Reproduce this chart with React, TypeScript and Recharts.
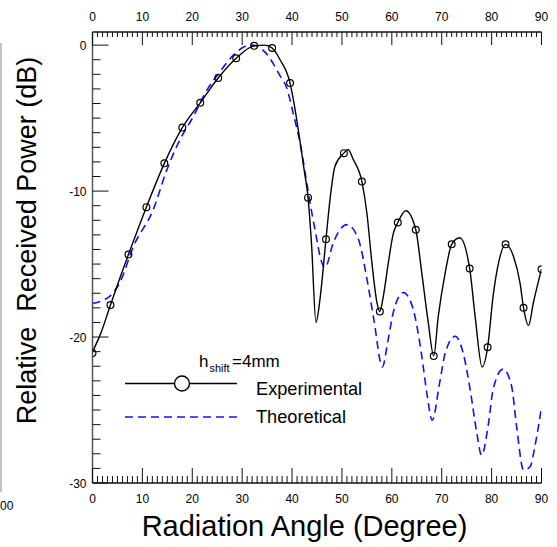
import React from 'react';
import { LineChart, Line, XAxis, YAxis } from 'recharts';

// Experimental markers (every 3.6 degrees)
const markerAngles = [0, 3.6, 7.2, 10.8, 14.4, 18, 21.6, 25.2, 28.8, 32.4, 36, 39.6, 43.2, 46.8, 50.4, 54, 57.6, 61.2, 64.8, 68.4, 72, 75.6, 79.2, 82.8, 86.4, 90];
const markerValues = [-21.1, -17.8, -14.35, -11.1, -8.1, -5.65, -3.95, -2.25, -0.9, -0.05, -0.2, -2.6, -10.45, -13.3, -7.4, -9.35, -18.25, -12.15, -12.65, -21.3, -13.65, -15.3, -20.7, -13.65, -18.0, -15.35];

// Experimental curve
const expAngles = [0, 1.6, 3.6, 7.2, 10.8, 14.4, 18, 21.6, 25.2, 28.8, 32.4, 34.5, 36, 37.6, 39.6, 40.3, 41.6, 42.4, 43.2, 43.9, 44.8, 45.6, 46.8, 47.6, 48.6, 50.4, 51.2, 52.3, 54, 55, 56, 57, 57.6, 58.3, 59.3, 60.3, 61.2, 62.8, 64.8, 66, 67.3, 68.4, 69.3, 70.7, 72, 73.6, 75.6, 76.7, 78.1, 79.2, 80.3, 81.4, 82.8, 84.4, 85.7, 86.4, 87.4, 88.4, 90];
const expValues = [-21.0, -19.8, -17.8, -14.35, -11.1, -8.1, -5.65, -3.95, -2.25, -0.9, -0.05, 0, -0.2, -1.0, -2.6, -3.8, -6.6, -8.5, -10.45, -13.6, -19.0, -17.4, -13.3, -10.6, -8.3, -7.4, -7.15, -7.85, -9.35, -11.5, -14.9, -17.6, -18.25, -17.2, -14.9, -12.9, -12.15, -11.35, -12.65, -15.6, -19.0, -21.3, -18.6, -15.6, -13.65, -13.2, -15.3, -18.6, -22.05, -20.7, -17.2, -14.9, -13.65, -14.5, -16.3, -18.0, -19.2, -17.6, -15.35];

// Theoretical curve
const theoAngles = [0, 2, 3.5, 5.5, 8.2, 12.2, 14.9, 17.5, 20.2, 22.9, 25.6, 28.2, 30.5, 32, 33.2, 34.9, 37.6, 38.9, 40.25, 41.6, 43.6, 44.9, 45.6, 46.6, 48.3, 51, 53.3, 55, 56.4, 58.1, 59.2, 60.3, 62.3, 64.2, 66, 67, 68.1, 69.6, 70.7, 72.7, 74.3, 75.7, 77, 78, 79.3, 80.3, 82.3, 84, 85, 86.4, 87.7, 88.7, 90];
const theoValues = [-17.7, -17.5, -17.2, -16.25, -13.8, -11.25, -8.55, -6.5, -4.9, -3.1, -1.8, -0.7, -0.1, 0, -0.1, -0.6, -2.1, -2.9, -4.7, -6.7, -10.8, -13.2, -14.45, -15.25, -13.5, -12.3, -13.3, -16.0, -18.8, -22.05, -20.3, -18.3, -16.95, -18.0, -21.3, -23.8, -25.7, -23.1, -21.1, -19.95, -21.1, -23.6, -26.5, -28.1, -26.1, -23.6, -22.2, -23.35, -26.1, -29.1, -28.9, -27.45, -24.8];

// Axis ticks
const xTicks = Array.from({ length: 91 }, (_, i) => i);
const yTicks = Array.from({ length: 31 }, (_, i) => -30 + i);
const xDomain = [0, 90];
const yDomain = [-30, 0.9];

const FONT = '"Liberation Sans", Arial, Helvetica, sans-serif';

const markerData = markerAngles.map((x, i) => ({ x, y: markerValues[i] }));
const expData = expAngles.map((x, i) => ({ x, y: expValues[i] }));
const theoData = theoAngles.map((x, i) => ({ x, y: theoValues[i] }));

const BottomTick = (props: any) => {
  const { x, y, payload } = props;
  const v = payload.value;
  const major = v % 10 === 0;
  return (
    <g>
      <line x1={x} x2={x} y1={y} y2={y - (major ? 15 : 7)} stroke="#111" strokeWidth={1} />
      {major && (
        <text x={x} y={y + 19.5} textAnchor="middle" fontSize={12} fontFamily={FONT} fill="#000">{v}</text>
      )}
    </g>
  );
};

const TopTick = (props: any) => {
  const { x, y, payload } = props;
  const v = payload.value;
  const major = v % 10 === 0;
  return (
    <g>
      <line x1={x} x2={x} y1={y} y2={y + (major ? 13 : 5)} stroke="#111" strokeWidth={1} />
      {major && (
        <text x={x} y={y - 11.3} textAnchor="middle" fontSize={12} fontFamily={FONT} fill="#000">{v}</text>
      )}
    </g>
  );
};

const LeftTick = (props: any) => {
  const { x, y, payload } = props;
  const v = payload.value;
  const major = v % 10 === 0;
  return (
    <g>
      <line x1={x} x2={x + (major ? 16 : 8)} y1={y} y2={y} stroke="#111" strokeWidth={1} />
      {major && (
        <text x={x - 6} y={y + 4.5} textAnchor="end" fontSize={12} fontFamily={FONT} fill="#000">{v}</text>
      )}
    </g>
  );
};

export default function App() {
  return (
    <div style={{ position: 'absolute', left: 0, top: 0, width: 557, height: 547, background: '#fff' }}>
      <LineChart width={557} height={547} margin={{ top: 0, right: 15.5, bottom: 0, left: 0 }}>
        <XAxis xAxisId="bottom" type="number" dataKey="x" domain={xDomain} ticks={xTicks} interval={0}
          tick={BottomTick} tickLine={false} tickSize={0} tickMargin={0} height={64}
          axisLine={{ stroke: '#111', strokeWidth: 1.5 }} allowDataOverflow />
        <XAxis xAxisId="top" orientation="top" type="number" dataKey="x" domain={xDomain} ticks={xTicks} interval={0}
          tick={TopTick} tickLine={false} tickSize={0} tickMargin={0} height={32}
          axisLine={{ stroke: '#111', strokeWidth: 1.5 }} allowDataOverflow />
        <YAxis yAxisId="left" type="number" domain={yDomain} ticks={yTicks} interval={0}
          tick={LeftTick} tickLine={false} tickSize={0} tickMargin={0} width={92.5}
          axisLine={{ stroke: '#555', strokeWidth: 1.5 }} allowDataOverflow />
        <YAxis yAxisId="right" orientation="right" type="number" domain={yDomain} tick={false}
          tickLine={false} width={0} axisLine={{ stroke: '#777', strokeWidth: 2 }} allowDataOverflow />
        <Line xAxisId="bottom" yAxisId="left" data={theoData} dataKey="y" type="monotone"
          stroke="#0a14ff" strokeWidth={1.6} strokeDasharray="8 5" dot={false} activeDot={false}
          isAnimationActive={false} />
        <Line xAxisId="bottom" yAxisId="left" data={expData} dataKey="y" type="monotone"
          stroke="#000" strokeWidth={1.4} dot={false} activeDot={false} isAnimationActive={false} />
        <Line xAxisId="bottom" yAxisId="left" data={markerData} dataKey="y" stroke="none"
          dot={{ r: 3.4, stroke: '#000', strokeWidth: 1.2, fill: 'none' }} activeDot={false}
          isAnimationActive={false} />
      </LineChart>
      <svg width={557} height={547} style={{ position: 'absolute', left: 0, top: 0, pointerEvents: 'none' }}>
        {/* cropped artifacts at the left edge */}
        <line x1={1} x2={1} y1={43} y2={492} stroke="#888" strokeWidth={1} />
        <text x={0} y={510} fontSize={12} fontFamily={FONT} fill="#000">00</text>
        {/* axis titles */}
        <text x={304.5} y={536} textAnchor="middle" fontSize={29} fontFamily={FONT} fill="#000">Radiation Angle (Degree)</text>
        <text x={36} y={240.5} textAnchor="middle" fontSize={27} fontFamily={FONT} fill="#000"
          transform="rotate(-90 36 240.5)" style={{ whiteSpace: 'pre' }}>{'Relative  Received Power (dB)'}</text>
        {/* legend */}
        <text fontFamily={FONT} fill="#000">
          <tspan x={199} y={367} fontSize={17}>h</tspan>
          <tspan x={209.5} y={371.5} fontSize={11}>shift</tspan>
          <tspan x={232} y={367} fontSize={17}>=4mm</tspan>
        </text>
        <line x1={125} x2={237} y1={383.5} y2={383.5} stroke="#000" strokeWidth={1.4} />
        <circle cx={182} cy={383.5} r={7.5} fill="#fff" stroke="#000" strokeWidth={1.4} />
        <text x={256} y={395} fontSize={18.2} fontFamily={FONT} fill="#000">Experimental</text>
        <line x1={125} x2={237} y1={417} y2={417} stroke="#0a14ff" strokeWidth={1.6} strokeDasharray="8 5" />
        <text x={256} y={423} fontSize={18.2} fontFamily={FONT} fill="#000">Theoretical</text>
      </svg>
    </div>
  );
}
